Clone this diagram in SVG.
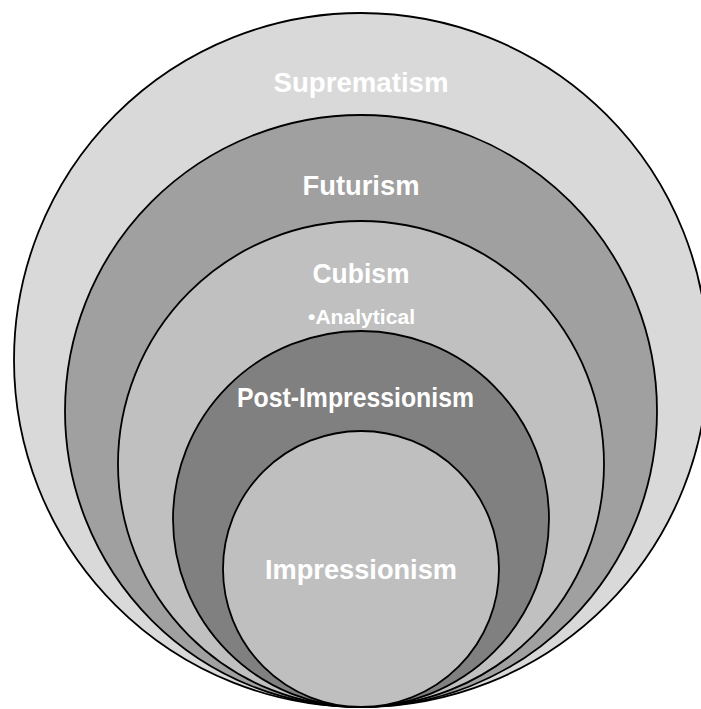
<svg xmlns="http://www.w3.org/2000/svg" width="701" height="709" viewBox="0 0 701 709">
<style>
.ring{stroke:#000;stroke-width:1.8}
.lbl{font-family:"Liberation Sans",Arial,sans-serif;font-weight:bold;fill:#fff;text-anchor:middle}
.big{font-size:28px}
.small{font-size:20px}
</style>
<rect width="701" height="709" fill="#fff"/>
<g id="suprematism">
<circle class="ring" cx="361" cy="360" r="347" fill="#d9d9d9"/>
<text class="lbl big" x="361" y="92" textLength="175" lengthAdjust="spacingAndGlyphs">Suprematism</text>
</g>
<g id="futurism">
<circle class="ring" cx="361" cy="411" r="296" fill="#a0a0a0"/>
<text class="lbl big" x="361" y="195" textLength="117" lengthAdjust="spacingAndGlyphs">Futurism</text>
</g>
<g id="cubism">
<circle class="ring" cx="361" cy="464" r="243" fill="#c0c0c0"/>
<text class="lbl big" x="361" y="283" textLength="97" lengthAdjust="spacingAndGlyphs">Cubism</text>
<text class="lbl small" x="361.5" y="324" textLength="107" lengthAdjust="spacingAndGlyphs">•Analytical</text>
</g>
<g id="post-impressionism">
<circle class="ring" cx="361" cy="519" r="188" fill="#808080"/>
<text class="lbl big" x="355.5" y="407" textLength="237" lengthAdjust="spacingAndGlyphs">Post-Impressionism</text>
</g>
<g id="impressionism">
<circle class="ring" cx="361" cy="569" r="138" fill="#bfbfbf"/>
<text class="lbl big" x="361" y="579" textLength="192" lengthAdjust="spacingAndGlyphs">Impressionism</text>
</g>
<g id="connectors"/>
</svg>
